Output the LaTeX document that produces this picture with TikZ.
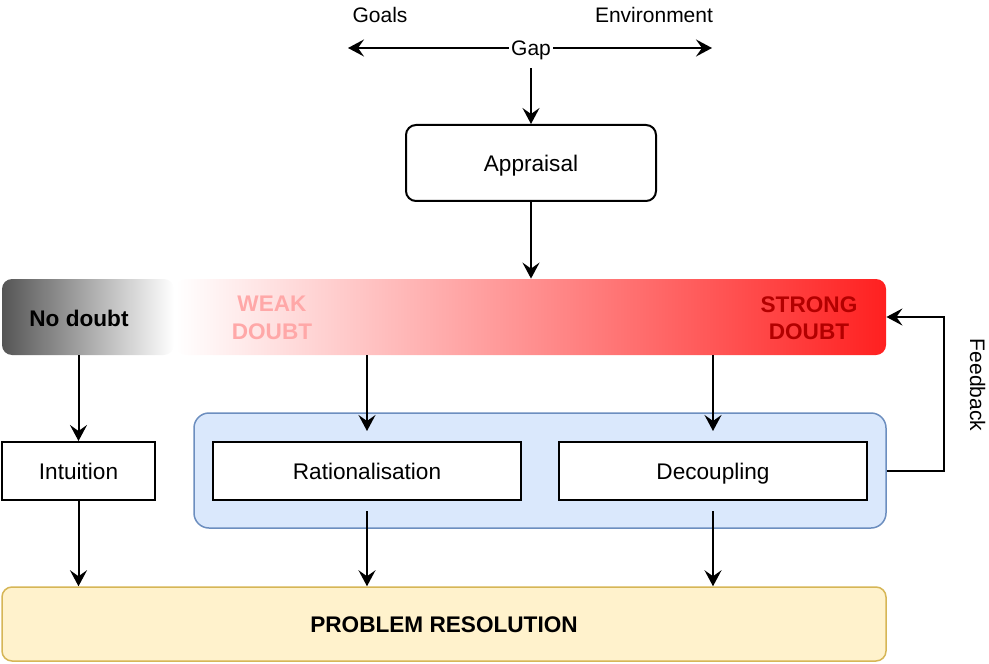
\documentclass[tikz,border=0pt]{standalone}
\usepackage{fontspec}
\setmainfont{Liberation Sans}
\usepackage{tikz}
\usetikzlibrary{arrows.meta,calc}
\definecolor{ink}{HTML}{000000}
\definecolor{greyend}{HTML}{555555}
\definecolor{redend}{HTML}{FF2020}
\definecolor{weaktxt}{HTML}{FFA8A8}
\definecolor{strongtxt}{HTML}{B30000}
\definecolor{bluefill}{HTML}{DAE8FC}
\definecolor{blueline}{HTML}{6C8EBF}
\definecolor{yellfill}{HTML}{FFF2CC}
\definecolor{yellline}{HTML}{D6B656}
\newcommand{\bodyfont}{\fontsize{11.3}{13.7}\selectfont}
\newcommand{\topfont}{\fontsize{10.5}{12.6}\selectfont}
\tikzset{
  arr/.style={-{Stealth[length=8pt,width=8.5pt,inset=3pt]}, line width=1pt, draw=ink},
  dbl/.style={{Stealth[length=8pt,width=8.5pt,inset=3pt]}-{Stealth[length=8pt,width=8.5pt,inset=3pt]}, line width=1pt, draw=ink},
  box/.style={draw=ink, line width=1pt, fill=white, minimum width=154pt, minimum height=29pt, font=\bodyfont, inner sep=0pt, text height=9.4pt, text depth=1pt},
  bar/.style={rectangle, rounded corners=5pt, minimum height=38pt, inner sep=0pt},
  lab/.style={font=\topfont, inner sep=1pt, text height=8.8pt, text depth=1pt},
  doubt/.style={font=\bodyfont\bfseries, align=center, inner sep=0pt}
}
\begin{document}
\begin{tikzpicture}[x=0.5pt, y=-0.5pt]
  \useasboundingbox (0,0) rectangle (989,663);

  % gap between goals and environment
  \node[lab] (goals) at (380,15) {Goals};
  \node[lab] (env) at (654,15) {Environment};
  \coordinate (gl) at (348,48);
  \coordinate (gr) at (712,48);
  \draw[dbl] (gl) -- (gr);
  \node[lab, fill=white] (gap) at (531,48) {Gap};

  \node[box, rounded corners=5pt, minimum width=125pt, minimum height=38pt] (app) at (531,163) {Appraisal};

  % doubt scale
  \node[bar, minimum width=86pt, left color=greyend, right color=white] (grey) at (88,317) {};
  \node[bar, minimum width=355pt, left color=white, right color=redend] (red) at (531,317) {};
  \node[doubt, text=ink] (nod) at (79,318) {No doubt};
  \node[doubt, text=weaktxt] (weak) at (272,318) {WEAK\\DOUBT};
  \node[doubt, text=strongtxt] (strong) at (809,318) {STRONG\\DOUBT};

  % strategies
  \node[draw=blueline, fill=bluefill, line width=0.75pt, rounded corners=7.5pt, minimum width=346pt, minimum height=57.5pt] (grp) at (540,470.5) {};
  \node[box, minimum width=76.5pt] (int) at (78.5,471) {Intuition};
  \node[box] (rat) at (367,471) {Rationalisation};
  \node[box] (dec) at (713,471) {Decoupling};

  \node[draw=yellline, fill=yellfill, line width=0.75pt, rounded corners=5pt, minimum width=442pt, minimum height=37pt, font=\bodyfont\bfseries, text height=9.4pt, text depth=1pt] (prob) at (444,624) {PROBLEM RESOLUTION};

  % connectors
  \draw[arr, shorten <=4pt] (gap.south) -- (app.north);
  \draw[arr] (app.south) -- (red.north);
  \draw[arr] (int.north |- grey.south) -- (int.north);
  \draw[arr, shorten >=5pt] (rat.north |- red.south) -- (rat.north);
  \draw[arr, shorten >=5pt] (dec.north |- red.south) -- (dec.north);
  \draw[arr] (int.south) -- (int.south |- prob.north);
  \draw[arr, shorten <=5pt] (rat.south) -- (rat.south |- prob.north);
  \draw[arr, shorten <=5pt] (dec.south) -- (dec.south |- prob.north);
  \draw[arr] (grp.east) -- ++(57,0) |- (red.east);
  \node[lab, rotate=-90] (fb) at (978,385) {Feedback};
\end{tikzpicture}
\end{document}
